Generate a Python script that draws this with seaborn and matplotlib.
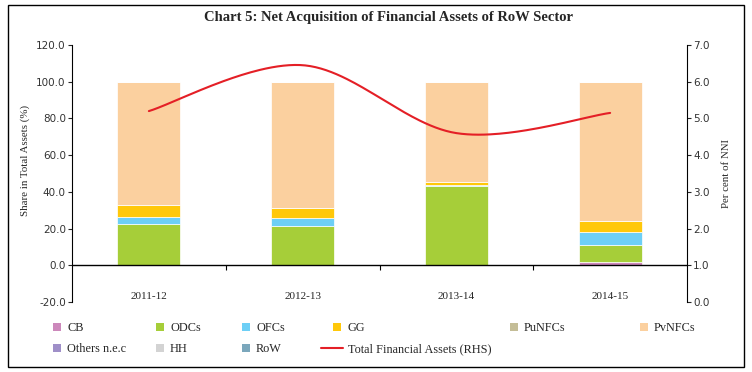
import numpy as np
import pandas as pd
import seaborn as sns
import matplotlib.pyplot as plt
from matplotlib.patches import Patch, Rectangle
from matplotlib.lines import Line2D

# data
years = ["2011-12", "2012-13", "2013-14", "2014-15"]
cb = [0.0, 0.0, 0.4, 1.6]
odcs = [22.6, 21.5, 43.0, 9.7]
ofcs = [3.9, 4.3, 0.6, 6.8]
gg = [6.4, 5.6, 1.3, 6.2]
punfcs = [0.0, 0.0, 0.0, 0.0]
pvnfcs = [67.1, 68.6, 54.7, 75.7]
others = [0.0, 0.0, 0.0, 0.0]
hh = [0.0, 0.0, 0.0, 0.0]
row = [0.0, 0.0, 0.0, 0.0]
total_rhs = [5.2, 6.45, 4.6, 5.15]

series = ["CB", "ODCs", "OFCs", "GG", "PuNFCs", "PvNFCs", "Others n.e.c", "HH", "RoW"]
colors = ["#cc88bb", "#a6ce39", "#6dcff6", "#ffc80a", "#c4bd97", "#fbd09f",
          "#9f8fc8", "#d3d3d3", "#7ba7bc"]
line_color = "#e41f26"

df = pd.DataFrame({"CB": cb, "ODCs": odcs, "OFCs": ofcs, "GG": gg, "PuNFCs": punfcs,
                   "PvNFCs": pvnfcs, "Others n.e.c": others, "HH": hh, "RoW": row},
                  index=years)

sns.set_style("white")
plt.rcParams["font.family"] = ["DejaVu Sans"]
serif = "Liberation Serif"


def smooth(y, n=60):
    # excel-style smoothed line (bezier through the points)
    y = np.asarray(y, float)
    x = np.arange(len(y), dtype=float)
    xs, ys = [], []
    t = np.linspace(0, 1, n)
    for i in range(len(y) - 1):
        j0 = max(i - 1, 0)
        j3 = min(i + 2, len(y) - 1)
        cx1 = x[i] + (x[i + 1] - x[j0]) / 6
        cy1 = y[i] + (y[i + 1] - y[j0]) / 6
        cx2 = x[i + 1] - (x[j3] - x[i]) / 6
        cy2 = y[i + 1] - (y[j3] - y[i]) / 6
        b0, b1, b2, b3 = (1 - t) ** 3, 3 * (1 - t) ** 2 * t, 3 * (1 - t) * t ** 2, t ** 3
        xs.append(b0 * x[i] + b1 * cx1 + b2 * cx2 + b3 * x[i + 1])
        ys.append(b0 * y[i] + b1 * cy1 + b2 * cy2 + b3 * y[i + 1])
    return np.concatenate(xs), np.concatenate(ys)


fig = plt.figure(figsize=(7.52, 3.72), dpi=100)
ax = fig.add_axes([72 / 752, 1 - 302 / 372, 615 / 752, 257 / 372])

x = np.arange(len(years))
bottom = np.zeros(len(years))
for name, c in zip(series, colors):
    vals = df[name].values
    ax.bar(x, vals, bottom=bottom, width=0.41, color=c, edgecolor="white",
           linewidth=0.5, zorder=2)
    bottom += vals

ax.set_xlim(-0.5, len(years) - 0.5)
ax.set_ylim(-20, 120)
ax.set_yticks(np.arange(-20, 121, 20))
ax.set_yticklabels([f"{v:.1f}" for v in np.arange(-20, 121, 20)])
ax.set_xticks([])
ax.axhline(0, color="black", lw=1, zorder=3)
ax.vlines([0.5, 1.5, 2.5], -2.3, 0, color="black", lw=0.8, zorder=3)
for i, yr in enumerate(years):
    ax.text(i, -17, yr, ha="center", va="center", fontsize=8, family=serif)

for s in ["top", "bottom", "right"]:
    ax.spines[s].set_visible(False)
ax.spines["left"].set_color("black")
ax.spines["left"].set_linewidth(0.8)
ax.tick_params(axis="y", direction="out", length=3, width=0.8, labelsize=7.5,
               labelcolor="#333333", left=True, pad=1.5)
ax.set_ylabel("Share in Total Assets (%)", family=serif, fontsize=7.8)
ax.yaxis.set_label_coords(-0.068, 0.55)

ax2 = ax.twinx()
lx, ly = smooth(total_rhs)
sns.lineplot(x=lx, y=ly, ax=ax2, color=line_color, lw=1.5, sort=False, zorder=4)
ax2.set_ylim(0, 7)
ax2.set_yticks(np.arange(0, 8, 1))
ax2.set_yticklabels([f"{v:.1f}" for v in np.arange(0, 8, 1)])
for s in ["top", "bottom", "left"]:
    ax2.spines[s].set_visible(False)
ax2.spines["right"].set_color("black")
ax2.spines["right"].set_linewidth(0.8)
ax2.tick_params(axis="y", direction="out", length=3, width=0.8, labelsize=7.5,
                labelcolor="#333333", right=True, pad=1.5)
ax2.set_ylabel("Per cent of NNI", family=serif, fontsize=7.8)
ax2.yaxis.set_label_coords(1.057, 0.5)

fig.text(388 / 752, 1 - 18 / 372, "Chart 5: Net Acquisition of Financial Assets of RoW Sector",
         ha="center", va="center", fontsize=10.5, fontweight="bold", family=serif)

# legend entries placed one by one
leg_pos = [(53, 328), (156, 328), (242, 328), (333, 328), (510, 328), (640, 328),
           (53, 349), (156, 349), (242, 349)]
for (px, py), name, c in zip(leg_pos, series, colors):
    fig.legend(handles=[Patch(facecolor=c, edgecolor="none")], labels=[name],
               loc="center left", bbox_to_anchor=(px / 752, 1 - py / 372),
               frameon=False, handlelength=0.65, handleheight=0.65, handletextpad=0.5,
               borderpad=0, borderaxespad=0, prop={"family": serif, "size": 8.8})
fig.legend(handles=[Line2D([0], [0], color=line_color, lw=1.5)],
           labels=["Total Financial Assets (RHS)"], loc="center left",
           bbox_to_anchor=(321 / 752, 1 - 349 / 372), frameon=False,
           handlelength=1.8, handletextpad=0.45, borderpad=0, borderaxespad=0,
           prop={"family": serif, "size": 8.8})

fig.patches.append(Rectangle((8 / 752, 1 - 367 / 372), 736 / 752, 362 / 372,
                             transform=fig.transFigure, fill=False,
                             edgecolor="black", lw=1))

fig.savefig("out.png", dpi=100)
